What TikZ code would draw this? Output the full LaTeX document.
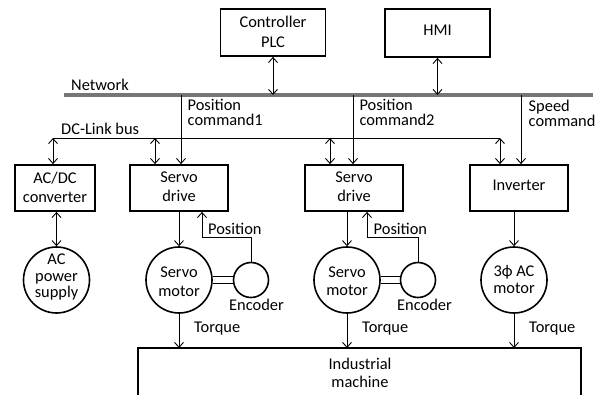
\documentclass[tikz,border=0pt]{standalone}
\usepackage{fontspec}
\setmainfont{Carlito}
\usetikzlibrary{arrows.meta}
\definecolor{netgray}{RGB}{118,118,118}
\newcommand\tightlines{\lineskiplimit-20pt\relax}
\begin{document}
\begin{tikzpicture}[x=1pt,y=-1pt,
  >={Straight Barb[length=5pt,width=9pt]},
  conn/.style={line width=0.9pt},
  boxnode/.style={draw, line width=1.8pt, inner sep=0pt, align=center, text depth=0pt, font=\fontsize{16.4}{19}\selectfont},
  circnode/.style={draw, circle, line width=1.6pt, inner sep=0pt, minimum size=66pt, align=center, text depth=0pt, font=\fontsize{16.4}{18}\selectfont},
  encnode/.style={draw, circle, line width=1.6pt, inner sep=0pt, minimum size=35pt},
  lbl/.style={inner sep=0pt, align=left, anchor=base west, font={\fontsize{16.4}{15}\selectfont\tightlines}}
]
\useasboundingbox (0,0) rectangle (601,394);
\fill[white] (0,0) rectangle (601,394);

% top boxes
\node[boxnode, minimum width=105pt, minimum height=47pt, text height=30.4pt, font=\fontsize{16.4}{20.4}\selectfont] (plc) at (273,32.5) {Controller\\PLC};
\node[boxnode, minimum width=105pt, minimum height=48pt, text height=5pt] (hmi) at (437.5,33) {HMI};

% network
\coordinate (nl) at (64,95);
\coordinate (nr) at (593,95);
\draw[line width=3.3pt, netgray] (nl) -- (nr);
\node[lbl] (netlbl) at (71,90) {Network};
\draw[conn,<->] (plc.south) -- (plc.south |- nl);
\draw[conn,<->] (hmi.south) -- (hmi.south |- nl);

% drive boxes
\node[boxnode, minimum width=80pt, minimum height=46pt, text height=28pt] (acdc) at (55,188) {AC/DC\\converter};
\node[boxnode, minimum width=98pt, minimum height=46pt, text height=27.4pt] (sd1) at (179,188) {Servo\\drive};
\node[boxnode, minimum width=98pt, minimum height=46pt, text height=27.4pt] (sd2) at (354,188) {Servo\\drive};
\node[boxnode, minimum width=98pt, minimum height=46pt, text height=4pt] (inv) at (519,188) {Inverter};

% commands from network
\coordinate (t1) at (181,95);
\coordinate (t2) at (353,95);
\coordinate (t3) at (521,95);
\draw[conn,->] (t1) -- (t1 |- sd1.north);
\draw[conn,->] (t2) -- (t2 |- sd2.north);
\draw[conn,->] (t3) -- (t3 |- inv.north);
\node[lbl] (pc1) at (187.5,125.5) {Position\\command1};
\node[lbl] (pc2) at (359.3,125.5) {Position\\command2};
\node[lbl] (spc) at (528.5,126.7) {Speed\\command};

% DC link bus
\coordinate (bl) at (53,138);
\coordinate (b1) at (155,138);
\coordinate (b2) at (330,138);
\coordinate (br) at (500,138);
\draw[conn] (bl) -- (br);
\node[lbl] (dclbl) at (61,134) {DC-Link bus};
\draw[conn,<->] (bl) -- (bl |- acdc.north);
\draw[conn,<->] (b1) -- (b1 |- sd1.north);
\draw[conn,<->] (b2) -- (b2 |- sd2.north);
\draw[conn,<->] (br) -- (br |- inv.north);

% circles
\node[circnode, font=\fontsize{16.4}{16.2}\selectfont, text height=34.6pt] (pow) at (56.5,280) {AC\\power\\supply};
\node[circnode, text height=33pt, font=\fontsize{16.4}{19.5}\selectfont] (m1) at (179,280) {Servo\\motor};
\node[circnode, text height=31pt] (m2) at (347,280) {Servo\\motor};
\node[circnode, text height=27pt, font=\fontsize{16.4}{17.3}\selectfont] (m3) at (514,280) {3ϕ AC\\motor};
\node[encnode] (e1) at (251,280) {};
\node[encnode] (e2) at (418,280) {};

\draw[conn,<->] (pow |- acdc.south) -- (pow.north);
\draw[conn,->] (m1 |- sd1.south) -- (m1.north);
\draw[conn,->] (m2 |- sd2.south) -- (m2.north);
\draw[conn,->] (m3 |- inv.south) -- (m3.north);

% shafts
\draw[conn] ([yshift=3.5pt]m1.east) -- ([yshift=3.5pt]m1.east -| e1.west);
\draw[conn] ([yshift=-3.5pt]m1.east) -- ([yshift=-3.5pt]m1.east -| e1.west);
\draw[conn] ([yshift=3.5pt]m2.east) -- ([yshift=3.5pt]m2.east -| e2.west);
\draw[conn] ([yshift=-3.5pt]m2.east) -- ([yshift=-3.5pt]m2.east -| e2.west);

% position feedback
\coordinate (f1) at (202,237);
\coordinate (f2) at (367,237);
\draw[conn,->] (e1.north) |- (f1) -- (f1 |- sd1.south);
\draw[conn,->] (e2.north) |- (f2) -- (f2 |- sd2.south);
\node[lbl] (pos1) at (208,234) {Position};
\node[lbl] (pos2) at (373.5,234) {Position};
\node[lbl] (enc1) at (229,310.7) {Encoder};
\node[lbl] (enc2) at (397,310.7) {Encoder};

% machine
\coordinate (mtl) at (138,348);
\coordinate (mtr) at (581,348);
\draw[line width=1.8pt] (138,400) -- (mtl) -- (mtr) -- (581,400);
\node[inner sep=0pt, align=center, anchor=base, font=\fontsize{16.4}{18}\selectfont] (mach) at (360,387) {Industrial\\machine};

\draw[conn,->] (m1.south) -- (m1 |- mtl);
\draw[conn,->] (m2.south) -- (m2 |- mtl);
\draw[conn,->] (m3.south) -- (m3 |- mtl);
\node[lbl] (tq1) at (194,332) {Torque};
\node[lbl] (tq2) at (362,332) {Torque};
\node[lbl] (tq3) at (529,332) {Torque};
\end{tikzpicture}
\end{document}
